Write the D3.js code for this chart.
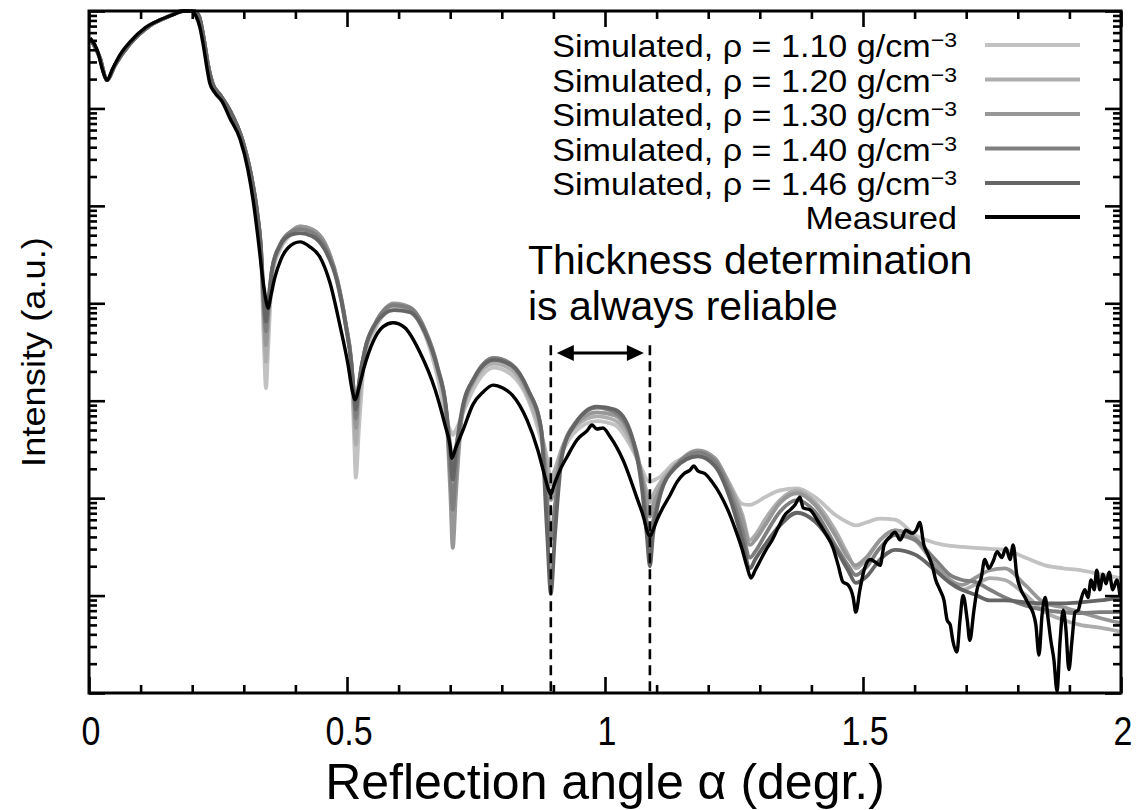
<!DOCTYPE html>
<html><head><meta charset="utf-8">
<script src="https://cdn.jsdelivr.net/npm/d3@7"></script>
<style>
body{margin:0;background:#fff}
svg{display:block}
text{font-family:"Liberation Sans",Arial,Helvetica,sans-serif;fill:#000}
</style>
</head><body>
<svg id="chart" width="1146" height="810"></svg>
<script>
// ---------- data (log10 of intensity, arbitrary units) ----------
const simAngle=[0.002,0.021,0.035,0.050,0.079,0.118,0.157,0.182,0.202,0.213,0.223,0.231,0.240,0.254,0.273,0.297,0.314,
0.326,0.333,0.339,0.343,0.347,0.355,0.370,0.390,0.409,0.432,0.457,0.481,0.498,0.508,0.514,0.517,0.523,0.535,0.554,
0.591,0.622,0.651,0.676,0.692,0.700,0.705,0.711,0.723,0.746,0.785,0.820,0.851,0.876,0.888,0.895,0.903,0.917,0.942,
0.984,1.019,1.048,1.072,1.081,1.087,1.093,1.107,1.136,1.180,1.213,1.242,1.266,1.281,1.291,1.310,1.339,1.372,1.407,
1.446,1.471,1.486,1.506,1.533,1.562,1.601,1.640,1.669,1.692,1.717,1.746,1.775,1.814,1.853,1.888,1.921,1.959,1.998];

const sim110=[6.72,6.52,6.29,6.44,6.66,6.85,6.95,7.00,7.00,6.95,6.70,6.44,6.25,6.14,5.98,5.68,5.32,
4.91,4.55,3.57,3.13,3.52,4.29,4.55,4.70,4.77,4.74,4.60,4.22,3.75,3.37,2.60,2.21,2.70,3.47,3.73,3.95,3.91,3.68,3.23,2.82,2.70,
2.65,2.70,2.85,3.13,3.34,3.26,3.01,2.60,2.34,2.22,2.29,2.47,2.68,2.79,2.75,2.55,2.29,2.19,2.17,2.18,2.22,2.37,2.44,2.37,
2.14,1.94,1.93,1.95,2.01,2.08,2.10,2.01,1.83,1.75,1.72,1.75,1.79,1.78,1.62,1.54,1.51,1.50,1.49,1.48,1.47,1.39,1.31,1.28,
1.26,1.22,1.18];
const sim120=[6.72,6.52,6.29,6.44,6.66,6.85,6.95,7.00,7.00,6.95,6.70,6.44,6.25,6.14,5.98,5.68,5.32,
4.91,4.55,3.83,3.40,3.78,4.32,4.57,4.72,4.79,4.76,4.62,4.24,3.77,3.40,2.80,2.55,2.96,3.50,3.76,3.98,3.94,3.71,3.30,2.91,2.55,
2.37,2.53,2.88,3.19,3.38,3.31,3.04,2.67,2.39,2.14,2.29,2.52,2.73,2.84,2.80,2.60,2.24,2.06,1.96,2.03,2.16,2.34,2.46,2.39,
2.14,1.83,1.57,1.62,1.78,1.98,2.08,1.96,1.67,1.42,1.28,1.37,1.57,1.67,1.57,1.31,1.13,1.06,1.11,1.18,1.16,1.01,0.83,0.75,
0.70,0.67,0.63];
const sim130=[6.72,6.52,6.29,6.44,6.66,6.85,6.95,7.00,7.00,6.95,6.70,6.44,6.25,6.14,5.98,5.68,5.32,
4.92,4.57,3.88,3.57,3.85,4.34,4.59,4.73,4.79,4.76,4.62,4.25,3.78,3.42,2.99,2.72,3.13,3.52,3.78,4.00,3.96,3.73,3.32,2.88,2.08,
1.49,2.03,2.85,3.21,3.42,3.35,3.08,2.70,2.21,1.98,2.17,2.49,2.75,2.88,2.85,2.65,2.21,1.98,1.81,1.93,2.10,2.33,2.49,2.41,
2.11,1.78,1.52,1.57,1.72,1.95,2.05,1.93,1.62,1.39,1.31,1.39,1.57,1.67,1.59,1.31,1.16,1.11,1.18,1.26,1.28,1.11,0.92,0.88,
0.83,0.77,0.72];
const sim140=[6.72,6.52,6.29,6.44,6.66,6.85,6.95,7.00,7.00,6.95,6.70,6.44,6.25,6.14,5.98,5.68,5.32,
4.93,4.59,3.98,3.71,3.93,4.36,4.60,4.73,4.76,4.73,4.59,4.24,3.78,3.42,3.03,2.82,3.16,3.53,3.79,3.98,3.95,3.73,3.34,2.91,2.29,
1.88,2.29,2.87,3.23,3.44,3.37,3.11,2.72,1.98,1.57,1.93,2.47,2.77,2.93,2.88,2.68,2.17,1.76,1.57,1.76,2.05,2.32,2.47,2.38,
2.06,1.67,1.39,1.45,1.62,1.86,1.98,1.86,1.52,1.31,1.21,1.29,1.49,1.62,1.57,1.37,1.21,1.16,1.14,1.06,0.98,0.90,0.85,0.83,
0.82,0.83,0.83];
const sim146=[6.72,6.52,6.29,6.44,6.66,6.85,6.95,7.00,7.00,6.95,6.70,6.44,6.25,6.14,5.98,5.68,5.32,
4.94,4.60,4.03,3.81,4.00,4.36,4.59,4.70,4.72,4.69,4.55,4.22,3.76,3.40,3.05,2.91,3.18,3.53,3.78,3.93,3.91,3.70,3.32,2.93,2.49,
2.19,2.47,2.91,3.23,3.42,3.36,3.11,2.72,1.62,1.02,1.62,2.44,2.76,2.94,2.91,2.70,2.08,1.62,1.30,1.62,2.03,2.31,2.43,2.33,
2.00,1.57,1.28,1.37,1.52,1.72,1.85,1.76,1.49,1.26,1.13,1.19,1.37,1.47,1.42,1.26,1.13,1.06,1.01,0.95,0.95,0.93,0.92,0.92,
0.93,0.95,0.98];

const measuredAngle=[0.002,0.016,0.027,0.035,0.045,0.060,0.079,0.109,0.138,0.167,0.182,0.198,0.207,0.215,0.223,0.229,0.234,
0.244,0.258,0.273,0.293,0.308,0.318,0.328,0.337,0.343,0.347,0.353,0.360,0.372,0.386,0.409,0.428,0.448,0.467,0.486,0.502,
0.510,0.516,0.523,0.533,0.550,0.570,0.589,0.612,0.641,0.671,0.690,0.700,0.703,0.711,0.725,0.744,0.764,0.783,0.802,0.820,
0.849,0.870,0.884,0.891,0.895,0.901,0.913,0.926,0.946,0.965,0.975,0.984,0.996,1.010,1.035,1.062,1.076,1.081,1.087,1.093,
1.101,1.112,1.126,1.140,1.153,1.165,1.172,1.180,1.194,1.207,1.223,1.238,1.252,1.266,1.275,1.283,1.291,1.300,1.312,1.324,
1.335,1.349,1.359,1.368,1.378,1.384,1.397,1.413,1.426,1.442,1.452,1.461,1.471,1.481,1.486,1.494,1.502,1.514,1.525,1.533,
1.541,1.552,1.562,1.572,1.583,1.595,1.603,1.610,1.618,1.626,1.634,1.641,1.649,1.657,1.663,1.669,1.674,1.682,1.688,1.694,
1.702,1.707,1.715,1.721,1.729,1.736,1.744,1.752,1.760,1.769,1.777,1.785,1.791,1.798,1.806,1.814,1.822,1.829,1.835,1.841,
1.847,1.853,1.859,1.864,1.870,1.876,1.882,1.888,1.893,1.899,1.905,1.911,1.917,1.922,1.930,1.936,1.942,1.948,1.953,1.959,
1.965,1.971,1.977,1.984,1.992,1.998];
const measuredLogI=[6.72,6.60,6.38,6.29,6.40,6.55,6.68,6.83,6.91,6.97,7.00,7.00,6.95,6.83,6.60,6.40,6.26,6.16,6.07,5.90,
5.68,5.37,5.06,4.65,4.24,4.03,3.95,4.09,4.26,4.45,4.57,4.63,4.58,4.47,4.21,3.78,3.37,3.11,3.01,3.13,3.34,3.60,3.76,3.80,
3.75,3.50,3.11,2.75,2.53,2.41,2.52,2.70,2.96,3.09,3.16,3.13,3.06,2.80,2.49,2.21,2.08,2.04,2.13,2.29,2.42,2.60,2.69,2.75,
2.71,2.72,2.63,2.39,2.00,1.78,1.67,1.61,1.67,1.78,1.90,2.03,2.17,2.25,2.29,2.33,2.28,2.25,2.17,2.04,1.88,1.69,1.47,1.30,
1.18,1.26,1.35,1.47,1.57,1.69,1.83,1.88,1.93,2.01,1.90,1.88,1.76,1.65,1.49,1.31,1.14,1.11,0.98,0.83,1.06,1.26,1.37,1.34,
1.31,1.52,1.60,1.65,1.57,1.67,1.64,1.67,1.75,1.52,1.42,1.31,1.16,1.06,0.95,0.75,0.70,0.54,0.42,0.75,1.00,0.75,0.54,0.85,
1.06,1.18,1.37,1.28,1.35,1.45,1.39,1.49,1.37,1.52,1.21,1.06,0.98,0.90,0.83,0.70,0.39,0.80,0.98,0.75,0.54,0.34,0.02,0.54,
0.85,0.67,0.24,0.54,0.83,0.85,0.95,1.06,0.98,1.16,1.06,1.26,1.06,1.22,1.12,1.24,1.06,1.16,1.00];

const seriesNames=["Simulated, \u03c1 = 1.10 g/cm","Simulated, \u03c1 = 1.20 g/cm","Simulated, \u03c1 = 1.30 g/cm",
"Simulated, \u03c1 = 1.40 g/cm","Simulated, \u03c1 = 1.46 g/cm","Measured"];
const seriesColors=["#c2c2c2","#adadad","#979797","#7f7f7f","#656565","#000000"];
const xMajorTicks=[0,0.5,1,1.5,2];
const xTickLabels=["0","0.5","1","1.5","2"];
const xMinorTicks=[0.1,0.2,0.3,0.4,0.6,0.7,0.8,0.9,1.1,1.2,1.3,1.4,1.6,1.7,1.8,1.9];
const yDecades=[0,1,2,3,4,5,6,7];
const markerAngles=[0.895,1.087];     // dashed markers (degr.)
const markerTopLogI=3.57, arrowLogI=3.49;
const annotationLines=["Thickness determination","is always reliable"];

// ---------- scales ----------
const L=89,R=1121,T=11,B=693;
const x=d3.scaleLinear().domain([0,2]).range([L,R]);
const y=d3.scaleLog().domain([1,1e7]).range([B,T]);
const svg=d3.select("#chart");

function label(px,py,str,size,anchor,sx,sy){
  return svg.append("text").attr("transform",`translate(${px},${py}) scale(${sx},${sy})`)
    .attr("font-size",size).attr("text-anchor",anchor||"start").text(str);
}

// ---------- curves ----------
const simSets=[sim110,sim120,sim130,sim140,sim146];
const line=d3.line().x(d=>x(d[0])).y(d=>y(Math.pow(10,d[1]))).curve(d3.curveMonotoneX);
svg.append("clipPath").attr("id","clip").append("rect").attr("x",L).attr("y",T-2).attr("width",R-L).attr("height",B-T+2);
const pg=svg.append("g").attr("clip-path","url(#clip)");
simSets.forEach((vals,i)=>{
  pg.append("path").datum(simAngle.map((a,k)=>[a,vals[k]]))
    .attr("d",line).attr("fill","none").attr("stroke",seriesColors[i]).attr("stroke-width",3.8)
    .attr("stroke-linejoin","round");
});
pg.append("path").datum(measuredAngle.map((a,k)=>[a,measuredLogI[k]]))
  .attr("d",line).attr("fill","none").attr("stroke",seriesColors[5]).attr("stroke-width",3.4)
  .attr("stroke-linejoin","round");

// ---------- axes ----------
const yMinor=[];
yDecades.slice(0,-1).forEach(e=>{for(let k=2;k<=9;k++) yMinor.push(k*Math.pow(10,e));});
const yMajor=yDecades.map(e=>Math.pow(10,e));
function styleAxis(g){g.select(".domain").remove();g.selectAll("line").attr("stroke","#000").attr("stroke-width",2.6);g.selectAll("text").remove();}
svg.append("g").attr("transform",`translate(0,${B})`).call(d3.axisBottom(x).tickValues(xMajorTicks).tickSize(-16)).call(styleAxis);
svg.append("g").attr("transform",`translate(0,${B})`).call(d3.axisBottom(x).tickValues(xMinorTicks).tickSize(-8)).call(styleAxis);
svg.append("g").attr("transform",`translate(0,${T})`).call(d3.axisTop(x).tickValues(xMajorTicks).tickSize(-16)).call(styleAxis);
svg.append("g").attr("transform",`translate(0,${T})`).call(d3.axisTop(x).tickValues(xMinorTicks).tickSize(-8)).call(styleAxis);
svg.append("g").attr("transform",`translate(${L},0)`).call(d3.axisLeft(y).tickValues(yMajor).tickSize(-16)).call(styleAxis);
svg.append("g").attr("transform",`translate(${L},0)`).call(d3.axisLeft(y).tickValues(yMinor).tickSize(-8)).call(styleAxis);
svg.append("g").attr("transform",`translate(${R},0)`).call(d3.axisRight(y).tickValues(yMajor).tickSize(-16)).call(styleAxis);
svg.append("g").attr("transform",`translate(${R},0)`).call(d3.axisRight(y).tickValues(yMinor).tickSize(-8)).call(styleAxis);
svg.append("rect").attr("x",L).attr("y",T).attr("width",R-L).attr("height",B-T)
  .attr("fill","none").attr("stroke","#000").attr("stroke-width",3);

// tick labels & titles
xMajorTicks.forEach((v,i)=>label(x(v)+2,745,xTickLabels[i],34,"middle",1,1.22));
label((L+R)/2,799,"Reflection angle \u03b1 (degr.)",50,"middle",1,1.0);
svg.append("text").attr("transform",`translate(45,352) rotate(-90) scale(1.1,1)`)
  .attr("font-size",33).attr("text-anchor","middle").text("Intensity (a.u.)");

// ---------- legend ----------
const legBase=[57,91.5,126,160.5,195,229];
seriesNames.forEach((n,i)=>{
  const t=svg.append("text").attr("transform",`translate(957,${legBase[i]}) scale(1.1,1)`)
    .attr("font-size",31).attr("text-anchor","end");
  t.append("tspan").text(n);
  if(i<5) t.append("tspan").attr("font-size",21).attr("dy",-10).text("\u22123");
  svg.append("line").attr("x1",985).attr("x2",1080).attr("y1",legBase[i]-12).attr("y2",legBase[i]-12)
    .attr("stroke",seriesColors[i]).attr("stroke-width",3.8);
});

// ---------- annotation ----------
label(528,274,annotationLines[0],40,"start",1.025,1.0);
label(528,320,annotationLines[1],40,"start",1.025,1.0);
markerAngles.forEach(a=>{
  svg.append("line").attr("x1",x(a)).attr("x2",x(a)).attr("y1",y(Math.pow(10,markerTopLogI))).attr("y2",B)
    .attr("stroke","#000").attr("stroke-width",2.6).attr("stroke-dasharray","10,6");
});
const ay=y(Math.pow(10,arrowLogI)), ax1=x(markerAngles[0])+6, ax2=x(markerAngles[1])-6;
svg.append("line").attr("x1",ax1+10).attr("x2",ax2-10).attr("y1",ay).attr("y2",ay).attr("stroke","#000").attr("stroke-width",3);
svg.append("path").attr("d",`M${ax1},${ay}L${ax1+17},${ay-8}L${ax1+17},${ay+8}Z`).attr("fill","#000");
svg.append("path").attr("d",`M${ax2},${ay}L${ax2-17},${ay-8}L${ax2-17},${ay+8}Z`).attr("fill","#000");
</script>
</body></html>
